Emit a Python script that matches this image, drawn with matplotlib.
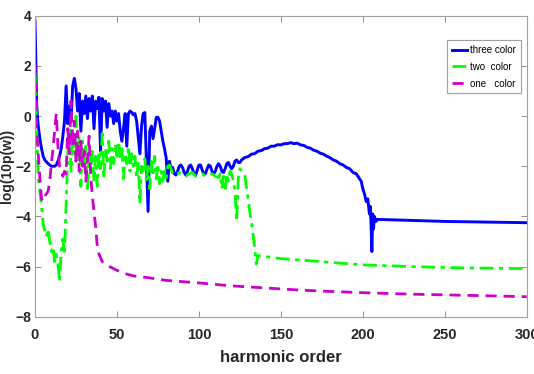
import matplotlib
matplotlib.use("Agg")
import matplotlib.pyplot as plt

# harmonic order / log power values
h_three = [0, 0.3, 0.6, 1, 1.5, 2, 3, 4, 5, 6, 8, 10, 12, 13, 14, 15, 16, 17, 18,
           19, 20, 21, 22, 23, 24, 25, 26, 27, 28, 29, 30, 31, 32, 33, 34, 35, 36, 37, 38, 39,
           40, 41, 42, 43, 44, 45, 46, 47, 48, 49, 50, 51, 52, 53, 54, 55, 56, 57, 58, 59,
           60, 61, 62, 63, 64, 65, 66, 67, 68, 69, 70, 71, 72, 73, 74, 75, 76, 77, 78, 79,
           80, 81, 82, 83, 84, 85, 86, 87, 88, 89, 90, 91, 92, 93, 94, 95, 96, 97, 98, 99,
           100, 101, 102, 103, 104, 105, 106, 107, 108, 109, 110, 111, 112, 113, 114, 115,
           116, 117, 118, 119, 120, 121, 122, 123, 124, 125, 126, 128, 130, 132, 134, 136,
           138, 140, 142, 144, 146, 148, 150, 152, 154, 156, 158, 160, 162, 164, 166, 168,
           170, 172, 174, 176, 178, 180, 182, 184, 186, 188, 190, 192, 194, 196, 198, 199,
           200, 201, 202, 203, 204, 204.5, 205, 205.5, 206, 206.5, 207, 208, 209, 215, 230,
           250, 270, 300]
y_three = [3.8, 3.0, 2.0, 0.5, 0.0, -0.4, -0.9, -1.3, -1.6, -1.75, -1.9, -2.0, -2.0, -1.95,
           -1.8, -1.6, -1.3, -0.8, -0.2,
           1.2, -0.3, 0.4, -0.2, 1.2, 1.5, 1.1, 0.2, 0.9, -0.6, 0.6, 0.1, 0.8, -0.1, 0.7, 0.2,
           0.8, -0.5, 0.6, 0.3, 0.75,
           -1.4, 0.7, 0.2, 0.6, -0.45, 0.5, 0.0, 0.2, -0.3, 0.2, -0.2, 0.1, -0.6, -1.0, -0.5,
           0.1, -1.2, 0.1, 0.2, 0.15,
           0.05, 0.1, -0.2, -0.85, -1.5, -0.4, 0.1, 0.14, -1.8, -3.8, -0.6, -0.4, -0.9, -0.5,
           -0.05, -0.05, -0.2, -0.6, -1.0, -1.3,
           -1.65, -2.6, -1.8, -2.1, -2.05, -2.3, -2.35, -2.2, -2.0, -1.95, -2.05, -2.25, -2.35,
           -2.2, -2.0, -1.95, -2.1, -2.3, -2.35, -2.15,
           -1.95, -1.95, -2.15, -2.3, -2.3, -2.1, -1.95, -2.0, -2.2, -2.3, -2.2, -2.0, -1.9,
           -2.0, -2.2, -2.25,
           -2.1, -1.9, -1.85, -2.0, -2.1, -2.0, -1.8, -1.75, -1.85, -1.85, -1.75, -1.65, -1.62,
           -1.52, -1.5, -1.4,
           -1.38, -1.3, -1.28, -1.2, -1.2, -1.14, -1.15, -1.1, -1.1, -1.06, -1.1, -1.08, -1.15,
           -1.17, -1.25, -1.28,
           -1.36, -1.4, -1.48, -1.52, -1.6, -1.66, -1.75, -1.8, -1.9, -1.95, -2.05, -2.1, -2.25,
           -2.3, -2.5, -2.6,
           -2.9, -3.1, -3.4, -3.3, -3.9, -3.6, -4.3, -5.4, -3.9, -4.5, -4.0, -4.2, -4.12, -4.13,
           -4.16, -4.2, -4.22, -4.25]

h_two = [0, 0.5, 1, 2, 3, 4, 5, 6, 7, 8, 9, 10, 11, 12, 13, 14, 15, 16, 17, 18, 19,
         20, 21, 22, 23, 24, 25, 26, 27, 28, 29, 30, 31, 32, 33, 34, 35, 36, 37, 38, 39,
         40, 41, 42, 43, 44, 45, 46, 47, 48, 49, 50, 51, 52, 53, 54, 55, 56, 57, 58, 59,
         60, 61, 62, 63, 64, 65, 66, 67, 68, 69, 70, 71, 72, 73, 74, 75, 76, 77, 78, 79,
         80, 81, 82, 83, 84, 86, 88, 90, 92, 94, 96, 98, 100, 102, 104, 106, 108, 110,
         112, 113, 114, 115, 116, 117, 118, 119, 120, 121, 122, 123, 124, 125, 126, 127,
         128, 129, 130, 131, 132, 133, 134, 135, 136, 137, 140, 150, 170, 200, 230, 260, 300]
y_two = [1.75, 1.0, -0.5, -2.5, -3.0, -3.6, -4.3, -4.6, -4.8, -4.5, -5.0, -5.4, -5.2, -5.8,
         -5.5, -5.9, -6.6, -5.4, -4.9, -5.5, -3.5,
         -1.5, -0.45, -2.2, -0.5, -1.5, 0.0, -1.8, -0.8, -2.8, -1.0, -2.0, -1.2, -3.0, -1.5,
         -2.2, -1.4, -2.6, -1.6, -2.8, -1.4,
         -2.1, -0.7, -2.5, -1.3, -1.8, -1.0, -2.1, -1.3, -1.9, -1.1, -1.6, -1.0, -1.7, -1.2,
         -2.5, -1.5, -1.9, -1.2, -2.2, -1.5,
         -2.0, -1.6, -2.5, -1.8, -3.5, -2.0, -2.3, -1.7, -2.6, -2.0, -2.9, -1.8, -2.4, -1.6,
         -2.5, -1.9, -2.7, -2.2, -2.6, -2.2,
         -2.5, -2.0, -1.95, -2.1, -2.3, -2.35, -2.25, -2.3, -2.4, -2.3, -2.25, -2.4, -2.35,
         -2.3, -2.4, -2.35, -2.3, -2.4,
         -2.45, -2.3, -2.9, -2.4, -3.0, -2.3, -2.6, -2.2, -2.3, -2.6, -3.0, -4.2, -2.5, -2.1,
         -2.2, -2.25,
         -2.35, -2.85, -3.3, -3.8, -4.2, -4.7, -5.25, -5.9, -5.55, -5.58, -5.6, -5.68, -5.78,
         -5.93, -6.0, -6.05, -6.08]

h_one = [0, 0.5, 1, 2, 3, 4, 5, 6, 7, 8, 9, 10, 11, 12, 13, 14, 15, 16, 17, 18, 19,
         20, 21, 22, 23, 24, 25, 26, 27, 28, 29, 30, 31, 32, 33, 34, 35, 36, 37, 38, 39,
         40, 41, 42, 44, 47, 50, 55, 60, 70, 80, 90, 100, 120, 140, 160, 180, 200, 230,
         260, 300]
y_one = [2.1, 0.5, -0.6, -1.5, -2.5, -3.3, -3.4, -3.2, -3.1, -3.0, -2.6, -1.9, -1.3,
         -0.6, 0.1, -1.2, -2.0, -2.1, -2.4, -2.2, -2.3,
         -0.5, -1.5, 0.6, -1.2, -0.2, -1.8, -0.6, -2.2, -1.0, -2.0, -1.4, -2.6, -1.8, -0.8,
         -2.4, -3.2, -3.8, -4.4, -5.2, -5.5,
         -5.65, -5.8, -5.85, -5.95, -6.05, -6.15, -6.28, -6.37, -6.45, -6.55, -6.6, -6.65,
         -6.77, -6.85, -6.93, -6.99, -7.04, -7.1, -7.14, -7.2]

labels = ['three color', 'two  color', 'one   color']
xticks = [0, 50, 100, 150, 200, 250, 300]
yticks = [-8, -6, -4, -2, 0, 2, 4]


def main():
    plt.rcParams['font.family'] = ['Liberation Sans', 'DejaVu Sans']
    fig = plt.figure(figsize=(5.34, 3.74), dpi=100)
    ax = fig.add_axes([0.0655, 0.153, 0.921, 0.805])

    ax.plot(h_three, y_three, color='#0000ff', lw=2.1, label=labels[0])
    ax.plot(h_two, y_two, color='#00ff00', lw=2.0, ls=(0, (5, 2, 1.5, 2)), label=labels[1])
    ax.plot(h_one, y_one, color='#cc00cc', lw=2.0, ls=(0, (4, 2.5)), label=labels[2])

    ax.set_xlim(0, 300)
    ax.set_ylim(-8, 4)
    ax.set_xticks(xticks)
    ax.set_yticks(yticks)
    ax.tick_params(direction='in', top=True, right=True, length=4, width=0.6,
                   color='#808080', labelsize=10.5)
    ax.tick_params(axis='x', pad=8)
    ax.tick_params(axis='y', pad=2.5, labelsize=10)
    for lab in ax.get_xticklabels() + ax.get_yticklabels():
        lab.set_fontweight('bold')
        lab.set_color('#262626')
    for sp in ax.spines.values():
        sp.set_color('#a0a0a0')
        sp.set_linewidth(0.8)

    ax.set_xlabel('harmonic order', fontsize=12, fontweight='bold', color='#262626', labelpad=6)
    ax.set_ylabel('log(10p(w))', fontsize=10, fontweight='bold', color='#262626')
    ax.yaxis.set_label_coords(-0.042, 0.5)

    leg = ax.legend(loc='upper right', bbox_to_anchor=(0.988, 0.919), borderaxespad=0,
                    fontsize=7, handlelength=1.6, handletextpad=0.3, labelspacing=0.7,
                    fancybox=False, framealpha=1, borderpad=0.5)
    leg.get_frame().set_edgecolor('#a0a0a0')
    leg.get_frame().set_linewidth(0.8)

    plt.savefig('out.png', dpi=100)
    plt.close()


if __name__ == "__main__":
    main()
